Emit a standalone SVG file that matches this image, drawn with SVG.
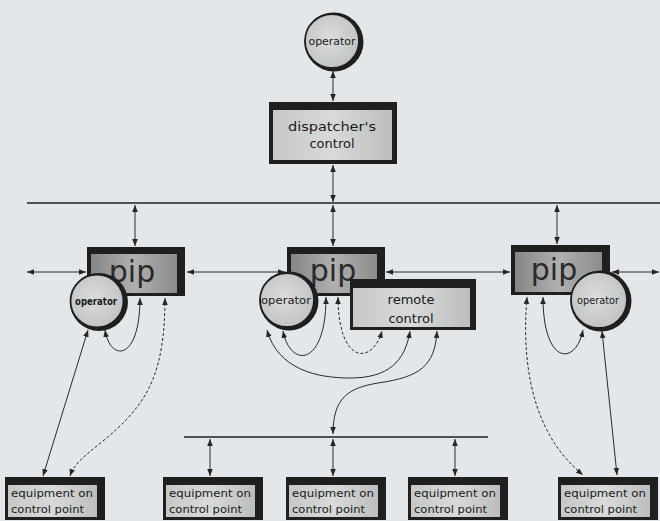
<svg xmlns="http://www.w3.org/2000/svg" width="660" height="521" viewBox="0 0 660 521">
<defs>
  <linearGradient id="gPip" x1="0" y1="0" x2="1" y2="0">
    <stop offset="0" stop-color="#858585"/>
    <stop offset="0.5" stop-color="#b0b0b0"/>
    <stop offset="1" stop-color="#8c8c8c"/>
  </linearGradient>
  <linearGradient id="gBox" x1="0" y1="0" x2="1" y2="0">
    <stop offset="0" stop-color="#c6c8c8"/>
    <stop offset="0.5" stop-color="#d8dada"/>
    <stop offset="1" stop-color="#bcbebe"/>
  </linearGradient>
  <radialGradient id="gCirc" cx="0.45" cy="0.45" r="0.6">
    <stop offset="0" stop-color="#dadcdd"/>
    <stop offset="1" stop-color="#bfc2c3"/>
  </radialGradient>
  <marker id="ah" viewBox="0 0 10 10" refX="10" refY="5" markerWidth="7" markerHeight="7" markerUnits="userSpaceOnUse" orient="auto-start-reverse">
    <path d="M0,1 L10,5 L0,9 z" fill="#262626"/>
  </marker>
  <style>
    .frame { fill: #1f1f1f; }
    .pipfill { fill: url(#gPip); }
    .boxfill { fill: url(#gBox); }
    .shadow { fill: #1f1f1f; }
    .circ { fill: url(#gCirc); stroke: #1f1f1f; stroke-width: 1.8; }
    .txt { font-family: "DejaVu Sans", "Liberation Sans", sans-serif; fill: #1a1a1a; }
    .pip { font-size: 30px; text-anchor: middle; fill: #2a2a2a; }
    .op { font-size: 10px; text-anchor: middle; }
    .lbl { font-size: 13px; text-anchor: middle; }
    .eq { font-size: 11px; }
    .bus { stroke: #1f1f1f; stroke-width: 1.6; fill: none; }
    .ln { stroke: #2a2a2a; stroke-width: 1; fill: none; marker-start: url(#ah); marker-end: url(#ah); }
    .dash { stroke-dasharray: 3 2; }
  </style>
</defs>
<rect width="660" height="521" fill="#e3e7e9"/>

<g id="connectors">
  <path class="bus" d="M27,203 H660"/>
  <path class="bus" d="M184,437 H488"/>
  <path class="ln" d="M333,71 V101"/>
  <path class="ln" d="M333,165 V202"/>
  <path class="ln" d="M135,205 V246"/>
  <path class="ln" d="M333,205 V246"/>
  <path class="ln" d="M557,205 V244"/>
  <path class="ln" d="M27,272 H86"/>
  <path class="ln" d="M187,272 H285"/>
  <path class="ln" d="M386,272 H510"/>
  <path class="ln" d="M612,272 H659"/>
  <path class="ln" d="M210,439 V476"/>
  <path class="ln" d="M333,439 V476"/>
  <path class="ln" d="M455,439 V476"/>
  <!-- left group -->
  <path class="ln" d="M88,330 L43,476"/>
  <path class="ln" d="M105,330 C110,362 140,362 140,298"/>
  <path class="ln dash" d="M165,298 C165,370 148,398 122,424 C98,448 76,458 70,476"/>
  <!-- center group -->
  <path class="ln" d="M283,331 C290,368 326,368 326,297"/>
  <path class="ln dash" d="M338,297 C338,364 372,366 382,331"/>
  <path class="ln" d="M267,330 C278,370 318,378 350,378 C388,378 405,362 410,331"/>
  <path class="ln" d="M333,434 C333,398 348,388 378,383 C420,377 435,366 437,331"/>
  <!-- right group -->
  <path class="ln" d="M543,297 C543,366 576,366 583,330"/>
  <path class="ln dash" d="M527,297 C520,380 540,440 583,475"/>
  <path class="ln" d="M602,331 L617,475"/>
</g>

<g id="op-top">
  <circle class="shadow" cx="334" cy="42" r="29.5"/>
  <circle class="circ" cx="332" cy="41" r="27"/>
  <text class="txt op" x="332" y="45" textLength="47" lengthAdjust="spacingAndGlyphs">operator</text>
</g>

<g id="dispatcher">
  <rect class="frame" x="269" y="102" width="128" height="62"/>
  <rect class="boxfill" x="273" y="110" width="119" height="50"/>
  <text class="txt lbl" x="332" y="131" textLength="88" lengthAdjust="spacingAndGlyphs">dispatcher's</text>
  <text class="txt lbl" x="332" y="148">control</text>
</g>

<g id="pip-left">
  <rect class="frame" x="87" y="247" width="98" height="49"/>
  <rect class="pipfill" x="91" y="254" width="86" height="39"/>
  <text class="txt pip" x="132" y="282">pip</text>
</g>

<g id="op-left">
  <circle class="shadow" cx="99" cy="302" r="29"/>
  <circle class="circ" cx="97" cy="301" r="26.5"/>
  <text class="txt op" x="96" y="305" textLength="42" lengthAdjust="spacingAndGlyphs" font-weight="bold">operator</text>
</g>

<g id="pip-center">
  <rect class="frame" x="287" y="247" width="98" height="49"/>
  <rect class="pipfill" x="291" y="254" width="86" height="39"/>
  <text class="txt pip" x="333" y="281">pip</text>
</g>

<g id="op-center">
  <circle class="shadow" cx="289" cy="301" r="29.5"/>
  <circle class="circ" cx="287" cy="300" r="27"/>
  <text class="txt op" x="286" y="304" textLength="50" lengthAdjust="spacingAndGlyphs">operator</text>
</g>

<g id="remote">
  <rect class="frame" x="350" y="279" width="126" height="51"/>
  <rect class="boxfill" x="353" y="288" width="117" height="39"/>
  <text class="txt lbl" x="411" y="304">remote</text>
  <text class="txt lbl" x="411" y="323">control</text>
</g>

<g id="pip-right">
  <rect class="frame" x="511" y="245" width="99" height="50"/>
  <rect class="pipfill" x="515" y="252" width="87" height="40"/>
  <text class="txt pip" x="554" y="280">pip</text>
</g>

<g id="op-right">
  <circle class="shadow" cx="601" cy="301" r="30.5"/>
  <circle class="circ" cx="599" cy="300" r="28"/>
  <text class="txt op" x="598" y="304" textLength="42" lengthAdjust="spacingAndGlyphs">operator</text>
</g>

<g id="eq1">
  <rect class="frame" x="5" y="477" width="100" height="43"/>
  <rect class="boxfill" x="8" y="485" width="89" height="32"/>
  <text class="txt eq" x="11" y="497" textLength="82" lengthAdjust="spacingAndGlyphs">equipment on</text>
  <text class="txt eq" x="11" y="513" textLength="73" lengthAdjust="spacingAndGlyphs">control point</text>
</g>
<g id="eq2">
  <rect class="frame" x="163" y="477" width="100" height="43"/>
  <rect class="boxfill" x="166" y="485" width="89" height="32"/>
  <text class="txt eq" x="169" y="497" textLength="82" lengthAdjust="spacingAndGlyphs">equipment on</text>
  <text class="txt eq" x="169" y="513" textLength="73" lengthAdjust="spacingAndGlyphs">control point</text>
</g>
<g id="eq3">
  <rect class="frame" x="286" y="477" width="100" height="43"/>
  <rect class="boxfill" x="289" y="485" width="89" height="32"/>
  <text class="txt eq" x="292" y="497" textLength="82" lengthAdjust="spacingAndGlyphs">equipment on</text>
  <text class="txt eq" x="292" y="513" textLength="73" lengthAdjust="spacingAndGlyphs">control point</text>
</g>
<g id="eq4">
  <rect class="frame" x="408" y="477" width="100" height="43"/>
  <rect class="boxfill" x="411" y="485" width="89" height="32"/>
  <text class="txt eq" x="414" y="497" textLength="82" lengthAdjust="spacingAndGlyphs">equipment on</text>
  <text class="txt eq" x="414" y="513" textLength="73" lengthAdjust="spacingAndGlyphs">control point</text>
</g>
<g id="eq5">
  <rect class="frame" x="558" y="477" width="100" height="43"/>
  <rect class="boxfill" x="561" y="485" width="89" height="32"/>
  <text class="txt eq" x="564" y="497" textLength="82" lengthAdjust="spacingAndGlyphs">equipment on</text>
  <text class="txt eq" x="564" y="513" textLength="73" lengthAdjust="spacingAndGlyphs">control point</text>
</g>
</svg>
